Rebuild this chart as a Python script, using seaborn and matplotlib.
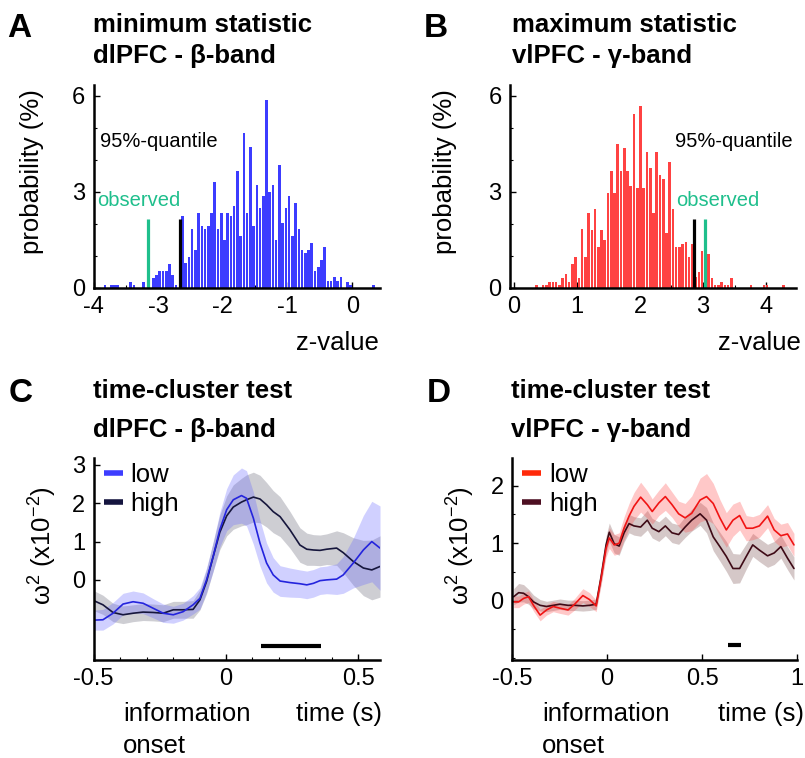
import numpy as np
import pandas as pd
import matplotlib
matplotlib.use("Agg")
import matplotlib.pyplot as plt
from matplotlib.lines import Line2D
from matplotlib.ticker import MultipleLocator
import seaborn as sns

# ---- panel A: null distribution of the minimum statistic (dlPFC, beta) ----
min_bin_start = -3.825
min_bin_width = 0.05
min_prob = [
    0.1, 0, 0.1, 0.1, 0.1, 0, 0, 0, 0.2, 0.1, 0, 0, 0.2, 0, 0, 0.3,
    0.42, 0.52, 0.52, 0.52, 0.74, 0.42, 0.1, 0,
    2.25, 0.77, 0.98, 1.83, 1.19, 2.35, 1.94, 1.83, 1.94, 2.35,
    3.32, 1.83, 2.35, 1.5, 2.35, 2.25, 2.56, 3.64, 1.63, 4.83,
    2.35, 4.4, 1.94, 3.22, 2.49, 2.88, 5.88, 3.01, 3.22, 1.5,
    3.84, 2.04, 2.49, 2.88, 1.63, 2.67, 1.83, 1.19, 1.08, 1.19,
    1.4, 0.54, 0.67, 0.88, 1.29, 0.23, 0.23, 0.33, 0.23, 0.33,
    0, 0.2, 0.1, 0, 0, 0, 0, 0, 0, 0.1,
]
min_quantile = -2.66
min_observed = -3.16

# ---- panel B: null distribution of the maximum statistic (vlPFC, gamma) ----
max_bin_start = 0.36
max_bin_width = 0.0515
max_prob = [
    0.1, 0, 0.1, 0.1, 0.2, 0.2, 0.2, 0.1, 0.3, 0.44,
    0.2, 0.75, 0.96, 0.32, 1.83, 0.98, 2.33, 1.81, 2.46, 1.29,
    1.81, 1.5, 2.98, 3.64, 2.98, 4.5, 3.64, 4.36, 3.64, 3.17,
    5.44, 3.11, 5.67, 3.11, 4.26, 3.74, 2.33, 4.26, 3.53, 3.4,
    1.71, 3.95, 2.46, 1.29, 1.29, 1.38, 1.45, 0.98, 1.38, 0.35,
    0.51, 1.17, 0.77, 1.06, 0.3, 0.1, 0.1, 0.2, 0.1, 0.1,
    0.3, 0, 0, 0, 0, 0, 0.1, 0, 0, 0,
    0.1, 0.1, 0, 0, 0, 0, 0.1,
]
max_quantile = 2.86
max_observed = 3.03
marker_height = 2.15

# ---- panel C: time-cluster test, dlPFC beta ----
c_time = [-0.5, -0.465, -0.427, -0.389, -0.351, -0.313, -0.275, -0.237, -0.199,
          -0.162, -0.124, -0.098, -0.073, -0.048, -0.023, 0.003, 0.028, 0.059,
          0.078, 0.104, 0.129, 0.154, 0.179, 0.205, 0.242, 0.28, 0.306, 0.331,
          0.356, 0.381, 0.419, 0.444, 0.482, 0.52, 0.552, 0.583]
c_low = [-1.05, -1.04, -0.87, -0.63, -0.57, -0.61, -0.74, -0.87, -0.91,
         -0.83, -0.65, -0.48, 0.0, 0.61, 1.31, 1.83, 2.09, 2.2,
         2.13, 1.61, 0.96, 0.44, 0.13, -0.03, -0.07, -0.1, -0.13, -0.09,
         -0.02, 0.0, 0.02, 0.13, 0.44, 0.78, 1.0, 0.83]
c_low_sem = [0.26, 0.27, 0.28, 0.28, 0.28, 0.27, 0.25, 0.24, 0.22,
             0.22, 0.24, 0.28, 0.32, 0.38, 0.45, 0.55, 0.65, 0.72,
             0.72, 0.68, 0.6, 0.52, 0.45, 0.4, 0.38, 0.36, 0.36, 0.36,
             0.36, 0.36, 0.4, 0.48, 0.65, 0.9, 1.05, 1.1]
c_high = [-0.54, -0.65, -0.85, -0.91, -0.87, -0.84, -0.85, -0.87, -0.78,
          -0.78, -0.77, -0.52, -0.04, 0.61, 1.24, 1.67, 1.9, 2.03,
          2.09, 2.16, 2.11, 1.96, 1.78, 1.65, 1.31, 0.91, 0.8, 0.78,
          0.77, 0.8, 0.83, 0.71, 0.48, 0.31, 0.26, 0.35]
c_high_sem = [0.26, 0.25, 0.24, 0.23, 0.22, 0.22, 0.22, 0.22, 0.22,
              0.22, 0.23, 0.26, 0.32, 0.38, 0.45, 0.52, 0.58, 0.62,
              0.65, 0.65, 0.62, 0.58, 0.55, 0.52, 0.48, 0.45, 0.42, 0.4,
              0.4, 0.4, 0.45, 0.52, 0.62, 0.72, 0.78, 0.8]
c_sig = (0.131, 0.36, -1.72)

# ---- panel D: time-cluster test, vlPFC gamma ----
d_time = [-0.491, -0.465, -0.439, -0.413, -0.387, -0.352, -0.318, -0.283,
          -0.248, -0.205, -0.17, -0.127, -0.092, -0.057, -0.031, -0.005,
          0.012, 0.038, 0.064, 0.09, 0.116, 0.142, 0.177, 0.212, 0.238,
          0.273, 0.307, 0.342, 0.377, 0.411, 0.446, 0.49, 0.524, 0.559,
          0.594, 0.628, 0.663, 0.698, 0.733, 0.767, 0.802, 0.845, 0.88,
          0.915, 0.95, 0.984]
d_low = [-0.02, -0.02, 0.04, 0.07, -0.08, -0.25, -0.16, -0.1,
         -0.13, -0.16, -0.06, 0.09, 0.02, -0.09, 0.39, 0.91,
         1.09, 0.97, 1.0, 1.26, 1.47, 1.64, 1.8, 1.67, 1.55,
         1.7, 1.81, 1.67, 1.51, 1.44, 1.52, 1.75, 1.81, 1.69,
         1.44, 1.23, 1.4, 1.48, 1.26, 1.26, 1.3, 1.47, 1.23,
         1.13, 1.16, 0.97]
d_low_sem = [0.1, 0.1, 0.1, 0.1, 0.1, 0.1, 0.09, 0.09,
             0.09, 0.09, 0.1, 0.12, 0.12, 0.1, 0.12, 0.15,
             0.18, 0.18, 0.18, 0.2, 0.22, 0.24, 0.26, 0.24, 0.22,
             0.22, 0.24, 0.22, 0.22, 0.25, 0.3, 0.38, 0.4, 0.35,
             0.32, 0.3, 0.28, 0.25, 0.22, 0.2, 0.2, 0.2, 0.2,
             0.2, 0.2, 0.2]
d_high = [0.07, 0.14, 0.13, 0.07, -0.02, -0.08, -0.1, -0.08,
          -0.06, -0.08, -0.08, -0.09, -0.08, -0.06, 0.42, 0.97,
          1.19, 0.99, 0.95, 1.18, 1.34, 1.3, 1.28, 1.4, 1.26,
          1.2, 1.3, 1.18, 1.15, 1.28, 1.4, 1.51, 1.4, 1.11,
          0.94, 0.77, 0.56, 0.56, 0.77, 0.97, 0.88, 0.78, 0.83,
          0.94, 0.74, 0.56]
d_high_sem = [0.14, 0.16, 0.15, 0.13, 0.12, 0.1, 0.09, 0.09,
              0.09, 0.09, 0.09, 0.09, 0.09, 0.09, 0.12, 0.15,
              0.16, 0.16, 0.16, 0.16, 0.16, 0.16, 0.16, 0.17, 0.17,
              0.17, 0.17, 0.17, 0.17, 0.18, 0.19, 0.2, 0.22, 0.24,
              0.25, 0.26, 0.26, 0.25, 0.22, 0.2, 0.2, 0.2, 0.2,
              0.2, 0.2, 0.2]
d_sig = (0.637, 0.703, -0.77)

GREEN = "#1fbf8c"
W, H = 805, 758

sns.set_theme(style="ticks")
plt.rcParams.update({
    "font.family": ["Liberation Sans", "DejaVu Sans"],
    "axes.unicode_minus": False,
    "mathtext.fontset": "custom",
    "mathtext.rm": "Liberation Sans",
    "mathtext.it": "Liberation Sans:italic",
    "mathtext.bf": "Liberation Sans:bold",
    "text.color": "black",
    "axes.labelcolor": "black",
    "xtick.color": "black",
    "ytick.color": "black",
})

fig = plt.figure(figsize=(W / 100, H / 100), dpi=100)


def box(x0, x1, y0, y1):
    return [x0 / W, 1 - y1 / H, (x1 - x0) / W, (y1 - y0) / H]


def put(x, y, s, **kw):
    fig.text(x / W, 1 - y / H, s, **kw)


def style_axes(ax):
    sns.despine(ax=ax)
    for side in ("left", "bottom"):
        ax.spines[side].set_linewidth(1.8)
        ax.spines[side].set_color("black")
    ax.tick_params(which="major", direction="in", length=4, width=1,
                   labelsize=17, pad=6, colors="black")
    ax.tick_params(which="minor", direction="in", length=2.5, width=0.8)
    ax.set_xlabel("")
    ax.set_ylabel("")


def draw_hist(ax, start, width, probs, color):
    centers = start + width * np.arange(len(probs))
    edges = list(np.append(centers - width / 2, centers[-1] + width / 2))
    df = pd.DataFrame({"z": centers, "prob": probs})
    sns.histplot(data=df, x="z", weights="prob", bins=edges, shrink=0.8,
                 color=color, alpha=1, edgecolor="none", linewidth=0, ax=ax)


ax_a = fig.add_axes(box(93.5, 380, 85, 288))
ax_b = fig.add_axes(box(510, 796, 85, 288))
ax_c = fig.add_axes(box(93.7, 380, 458, 660))
ax_d = fig.add_axes(box(512, 797, 458, 660))

# A
draw_hist(ax_a, min_bin_start, min_bin_width, min_prob, "#3c3cff")
ax_a.vlines(min_observed, 0, marker_height, color=GREEN, lw=2.3)
ax_a.vlines(min_quantile, 0, marker_height, color="black", lw=2.3)
ax_a.text(-3.9, 4.56, "95%-quantile", fontsize=14.5, va="center", ha="left")
ax_a.text(-3.95, 2.73, "observed", fontsize=14.5, va="center", ha="left", color=GREEN)
ax_a.set_xlim(-4, 0.43)
ax_a.set_ylim(0, 6.34)
ax_a.set_xticks([-4, -3, -2, -1, 0])
ax_a.set_yticks([0, 3, 6])
ax_a.xaxis.set_minor_locator(MultipleLocator(0.5))
ax_a.yaxis.set_minor_locator(MultipleLocator(1))

# B
draw_hist(ax_b, max_bin_start, max_bin_width, max_prob, "#ff4242")
ax_b.vlines(max_quantile, 0, marker_height, color="black", lw=2.3)
ax_b.vlines(max_observed, 0, marker_height, color=GREEN, lw=2.3)
ax_b.text(2.556, 4.56, "95%-quantile", fontsize=14.5, va="center", ha="left")
ax_b.text(2.567, 2.73, "observed", fontsize=14.5, va="center", ha="left", color=GREEN)
ax_b.set_xlim(-0.063, 4.476)
ax_b.set_ylim(0, 6.34)
ax_b.set_xticks([0, 1, 2, 3, 4])
ax_b.set_yticks([0, 3, 6])
ax_b.xaxis.set_minor_locator(MultipleLocator(0.5))
ax_b.yaxis.set_minor_locator(MultipleLocator(1))


def draw_curves(ax, t, low, low_sem, high, high_sem, cols):
    t = np.array(t)
    low, low_sem = np.array(low), np.array(low_sem)
    high, high_sem = np.array(high), np.array(high_sem)
    ax.fill_between(t, high - high_sem, high + high_sem, color=cols["high_band"],
                    alpha=0.28, lw=0)
    ax.fill_between(t, low - low_sem, low + low_sem, color=cols["low_band"],
                    alpha=0.3, lw=0)
    sns.lineplot(x=t, y=high, color=cols["high"], lw=1.2, ax=ax)
    sns.lineplot(x=t, y=low, color=cols["low"], lw=1.2, ax=ax)
    handles = [Line2D([], [], color=cols["low_key"], lw=4, solid_capstyle="butt"),
               Line2D([], [], color=cols["high_key"], lw=4, solid_capstyle="butt")]
    ax.legend(handles, ["low", "high"], loc="upper left",
              bbox_to_anchor=(0.035, 0.975), frameon=False, fontsize=18.5,
              handlelength=0.75, handletextpad=0.3, labelspacing=0.2,
              borderpad=0, borderaxespad=0)


# C
draw_curves(ax_c, c_time, c_low, c_low_sem, c_high, c_high_sem,
            {"low": "#2424dd", "high": "#16163c", "low_band": "#6666ff",
             "high_band": "#505064", "low_key": "#3d3dff", "high_key": "#15153f"})
ax_c.hlines(c_sig[2], c_sig[0], c_sig[1], color="black", lw=3)
ax_c.set_xlim(-0.5, 0.583)
ax_c.set_ylim(-2.09, 3.18)
ax_c.set_xticks([-0.5, 0, 0.5], ["-0.5", "0", "0.5"])
ax_c.set_yticks([0, 1, 2, 3])
ax_c.xaxis.set_minor_locator(MultipleLocator(0.1))

# D
draw_curves(ax_d, d_time, d_low, d_low_sem, d_high, d_high_sem,
            {"low": "#f01414", "high": "#3e0a16", "low_band": "#ff4a4a",
             "high_band": "#6a3a3a", "low_key": "#ff2a0a", "high_key": "#4d0f22"})
ax_d.hlines(d_sig[2], d_sig[0], d_sig[1], color="black", lw=3)
ax_d.set_xlim(-0.5, 1.0)
ax_d.set_ylim(-1.03, 2.48)
ax_d.set_xticks([-0.5, 0, 0.5, 1], ["-0.5", "0", "0.5", "1"])
ax_d.set_yticks([0, 1, 2])
ax_d.yaxis.set_minor_locator(MultipleLocator(0.5))

for ax in (ax_a, ax_b, ax_c, ax_d):
    style_axes(ax)

# panel letters and titles
bold = dict(fontweight="bold", va="baseline", ha="left")
put(7, 37, "A", fontsize=24, **bold)
put(424, 37, "B", fontsize=24, **bold)
put(9, 402, "C", fontsize=24, **bold)
put(427, 402, "D", fontsize=24, **bold)
put(93, 31.7, "minimum statistic", fontsize=18.5, **bold)
put(93, 63.3, "dlPFC - β-band", fontsize=18.5, **bold)
put(512, 31.7, "maximum statistic", fontsize=18.5, **bold)
put(512, 63.3, "vlPFC - γ-band", fontsize=18.5, **bold)
put(93, 398, "time-cluster test", fontsize=18.5, **bold)
put(93, 437, "dlPFC - β-band", fontsize=18.5, **bold)
put(511, 398, "time-cluster test", fontsize=18.5, **bold)
put(511, 437, "vlPFC - γ-band", fontsize=18.5, **bold)

# axis labels
lab = dict(fontsize=18.5, va="baseline", ha="left")
put(296, 350, "z-value", **lab)
put(718, 350, "z-value", **lab)
put(123, 721, "information", **lab)
put(123, 753, "onset", **lab)
put(296, 721, "time (s)", **lab)
put(542, 721, "information", **lab)
put(542, 753, "onset", **lab)
put(718, 721, "time (s)", **lab)

rot = dict(fontsize=18.5, rotation=90, ha="right", va="center")
put(44, 172, "probability (%)", **rot)
put(457, 172, "probability (%)", **rot)
put(59, 546, "ω$^2$ (x10$^{-2}$)", **rot)
put(477, 546, "ω$^2$ (x10$^{-2}$)", **rot)

fig.savefig("out.png", dpi=100)
